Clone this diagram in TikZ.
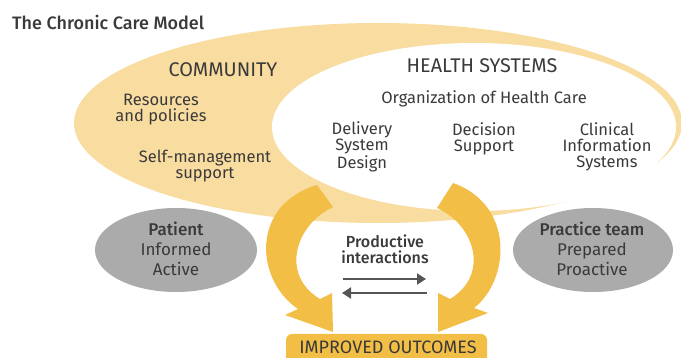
\documentclass[tikz,border=0pt]{standalone}
\usepackage{fontspec}
\setmainfont{Fira Sans}[BoldFont={Fira Sans Medium}]
\usetikzlibrary{arrows.meta}
\definecolor{comm}{HTML}{F8DCA0}
\definecolor{arr}{HTML}{F2BE46}
\definecolor{grayell}{HTML}{ABABAB}
\definecolor{txt}{HTML}{3A3A3A}
\definecolor{iarr}{HTML}{555555}
\tikzset{
  lbl/.style={text=txt, align=center, inner sep=0pt, font=\fontsize{16.5}{16}\selectfont},
  head/.style={text=txt, align=center, inner sep=0pt, font=\fontsize{19.8}{20}\selectfont},
  person/.style={text=txt, align=center, inner sep=0pt, font=\fontsize{17}{20}\selectfont},
  bigarrow/.style={fill=arr},
  iarrow/.style={draw=iarr, line width=2pt, -{Triangle[length=9pt,width=11pt]}},
}
\begin{document}
\begin{tikzpicture}[x=1pt,y=-1pt]
\useasboundingbox (0,0) rectangle (681,358);
% gray ellipses
\fill[grayell] (176,250) ellipse [x radius=81, y radius=42];
\fill[grayell] (593,250) ellipse [x radius=80, y radius=42];
% community and health systems
\fill[comm] (378,123) ellipse [x radius=304, y radius=100];
\fill[white] (474,127) ellipse [x radius=202, y radius=84];
% big curved arrows
\fill[bigarrow] (317,185) -- (333,207)
  .. controls (295,225) and (280,275) .. (320,299)
  -- (332,293) -- (333,332) -- (285,315) -- (298,309)
  .. controls (255,280) and (250,205) .. (317,185) -- cycle;
\fill[bigarrow] (453,183) -- (437,208)
  .. controls (475,225) and (490,275) .. (450,299)
  -- (438,293) -- (438,332) -- (488,313) -- (474,308)
  .. controls (510,280) and (515,205) .. (453,183) -- cycle;
% outcomes box
\fill[arr, rounded corners=6pt] (286,334) rectangle (487,372);
\node[text=txt, inner sep=0pt, font=\fontsize{18}{20}\selectfont] (outcomes) at (388,347) {IMPROVED OUTCOMES};
% title
\node[anchor=west, text=txt, inner sep=0pt, font=\fontsize{18}{20}\selectfont\bfseries] (title) at (12,22) {The Chronic Care Model};
% texts
\node[head] (community) at (223,70) {COMMUNITY};
\node[head] (health) at (482,66) {HEALTH SYSTEMS};
\node[lbl] (org) at (484,99) {Organization of Health Care};
\node[lbl] (delivery) at (362,147) {Delivery\\System\\Design};
\node[lbl] (decision) at (484,139) {Decision\\Support};
\node[lbl] (clinical) at (607,147) {Clinical\\Information\\Systems};
\node[lbl] (resources) at (161,110) {Resources\\and policies};
\node[lbl] (selfmgmt) at (205,166) {Self-management\\support};
\node[lbl, font=\fontsize{16}{16}\selectfont\bfseries] (productive) at (385,249) {Productive\\interactions};
\node[person] (patient) at (176,249) {\bfseries Patient\\Informed\\Active};
\node[person] (practice) at (592,249) {\bfseries Practice team\\Prepared\\Proactive};
% interaction arrows
\coordinate (ra) at (343,279);
\coordinate (rb) at (426,279);
\coordinate (la) at (427,293);
\coordinate (lb) at (342,293);
\draw[iarrow] (ra) -- (rb);
\draw[iarrow] (la) -- (lb);
\end{tikzpicture}
\end{document}
